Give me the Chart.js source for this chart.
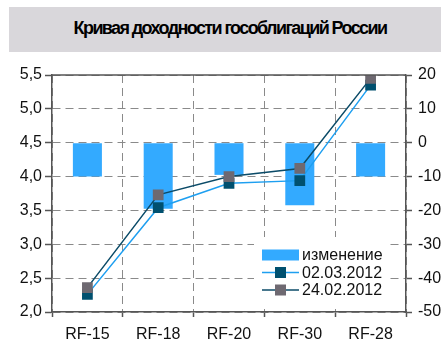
<!DOCTYPE html>
<html>
<head>
<meta charset="utf-8">
<script src="https://cdn.jsdelivr.net/npm/chart.js@4/dist/chart.umd.min.js"></script>
<style>
  html, body { margin: 0; padding: 0; background: #ffffff; }
  #wrap { position: relative; width: 441px; height: 340px; overflow: hidden; }
  #title {
    position: absolute; left: 9px; top: 7px; width: 432px; height: 45px;
    background: #d9d7db;
    font: bold 18px "Liberation Sans", Arial, sans-serif;
    letter-spacing: -1.6px; color: #000;
    display: flex; align-items: center; justify-content: center;
    padding-left: 10px; padding-bottom: 3px; box-sizing: border-box;
  }
  canvas { position: absolute; left: 0; top: 0; }
</style>
</head>
<body>
<div id="wrap">
  <canvas id="c" width="441" height="340"></canvas>
  <div id="title">Кривая доходности гособлигаций России</div>
</div>
<script>
// Bond issues along the curve
const categories = ['RF-15', 'RF-18', 'RF-20', 'RF-30', 'RF-28'];
// Yields, %
const yield0203 = [2.26, 3.54, 3.90, 3.94, 5.35];
const yield2402 = [2.36, 3.73, 4.00, 4.12, 5.45];
// Change, basis points (right axis)
const changeBp = [-10, -19.5, -9.5, -18.5, -10];
// Series names
const seriesNames = ['изменение', '02.03.2012', '24.02.2012'];

const FONT = '"Liberation Sans", Arial, sans-serif';
const BAR_COLOR = '#33aaff';
const LINE1 = '#1e9ff0', MARK1 = '#00506f';
const LINE2 = '#0b4b68', MARK2 = '#6e6971';
const AXIS = '#555555', GRID = '#8a8a8a';

// Legend box drawn inside the plot, bottom right
const boxLegend = {
  id: 'boxLegend',
  afterDatasetsDraw(chart) {
    const ctx = chart.ctx;
    const ca = chart.chartArea;
    const x0 = ca.right - 152, y0 = ca.bottom - 75, w = 136, h = 68;
    ctx.save();
    ctx.fillStyle = '#ffffff';
    ctx.fillRect(x0, y0, w, h);
    ctx.font = '16px ' + FONT;
    ctx.textBaseline = 'middle';
    ctx.fillStyle = '#111111';
    const sx = x0 + 8, sw = 37, tx = x0 + 48;
    const rows = [y0 + 18, y0 + 35.5, y0 + 53];
    chart.data.datasets.forEach((ds, i) => {
      const ry = rows[i];
      if (ds.type === 'bar') {
        ctx.fillStyle = ds.backgroundColor;
        ctx.fillRect(sx, ry - 5.5, sw, 11);
      } else {
        ctx.strokeStyle = ds.borderColor;
        ctx.lineWidth = ds.borderWidth;
        ctx.beginPath();
        ctx.moveTo(sx, ry); ctx.lineTo(sx + sw, ry);
        ctx.stroke();
        ctx.fillStyle = ds.pointBackgroundColor;
        ctx.fillRect(sx + sw / 2 - 5.5, ry - 5.5, 11, 11);
      }
      ctx.fillStyle = '#111111';
      ctx.fillText(ds.label, tx, ry + 1);
    });
    ctx.restore();
  },
  afterDraw(chart) {
    // solid top frame line
    const ctx = chart.ctx, ca = chart.chartArea;
    ctx.save();
    ctx.strokeStyle = AXIS;
    ctx.lineWidth = 1.5;
    ctx.beginPath();
    ctx.moveTo(ca.left, ca.top); ctx.lineTo(ca.right, ca.top);
    ctx.stroke();
    ctx.restore();
  }
};

new Chart(document.getElementById('c'), {
  type: 'bar',
  data: {
    labels: categories,
    datasets: [
      {
        type: 'bar', label: seriesNames[0], data: changeBp, yAxisID: 'y1',
        backgroundColor: BAR_COLOR, borderWidth: 0,
        barPercentage: 0.41, categoryPercentage: 1.0, order: 3
      },
      {
        type: 'line', label: seriesNames[1], data: yield0203, yAxisID: 'y',
        borderColor: LINE1, borderWidth: 1.5, tension: 0,
        pointStyle: 'rect', pointRadius: 7.6, pointBorderWidth: 0,
        pointBackgroundColor: MARK1, pointBorderColor: MARK1, order: 2
      },
      {
        type: 'line', label: seriesNames[2], data: yield2402, yAxisID: 'y',
        borderColor: LINE2, borderWidth: 1.5, tension: 0,
        pointStyle: 'rect', pointRadius: 7.6, pointBorderWidth: 0,
        pointBackgroundColor: MARK2, pointBorderColor: MARK2, order: 1
      }
    ]
  },
  options: {
    responsive: false,
    animation: false,
    layout: { padding: { top: 75, left: 0, right: 0, bottom: 0 } },
    plugins: { legend: { display: false }, title: { display: false }, tooltip: { enabled: false } },
    scales: {
      x: {
        type: 'category', offset: true,
        grid: { offset: true, color: GRID, lineWidth: 1, tickLength: 5, tickColor: AXIS, tickWidth: 1.5 },
        border: { color: AXIS, width: 1.5, dash: [8, 5] },
        ticks: { color: '#111', font: { family: FONT, size: 16 }, padding: 8, maxRotation: 0, autoSkip: false },
        afterFit(s) { s.height = 28; }
      },
      y: {
        position: 'left', min: 2, max: 5.5,
        grid: { color: GRID, lineWidth: 1, tickLength: 7, tickColor: AXIS, tickWidth: 1.5 },
        border: { color: AXIS, width: 1.5, dash: [8, 5] },
        ticks: {
          stepSize: 0.5, color: '#111', font: { family: FONT, size: 16 }, padding: 3,
          callback: v => v.toFixed(1).replace('.', ',')
        },
        afterFit(s) { s.width = 52; }
      },
      y1: {
        position: 'right', min: -50, max: 20,
        grid: { drawOnChartArea: false, tickLength: 6, tickColor: AXIS, tickWidth: 1.5 },
        border: { color: AXIS, width: 1.5 },
        ticks: { stepSize: 10, color: '#111', font: { family: FONT, size: 16 }, padding: 6 },
        afterFit(s) { s.width = 35; }
      }
    }
  },
  plugins: [boxLegend]
});
</script>
</body>
</html>
